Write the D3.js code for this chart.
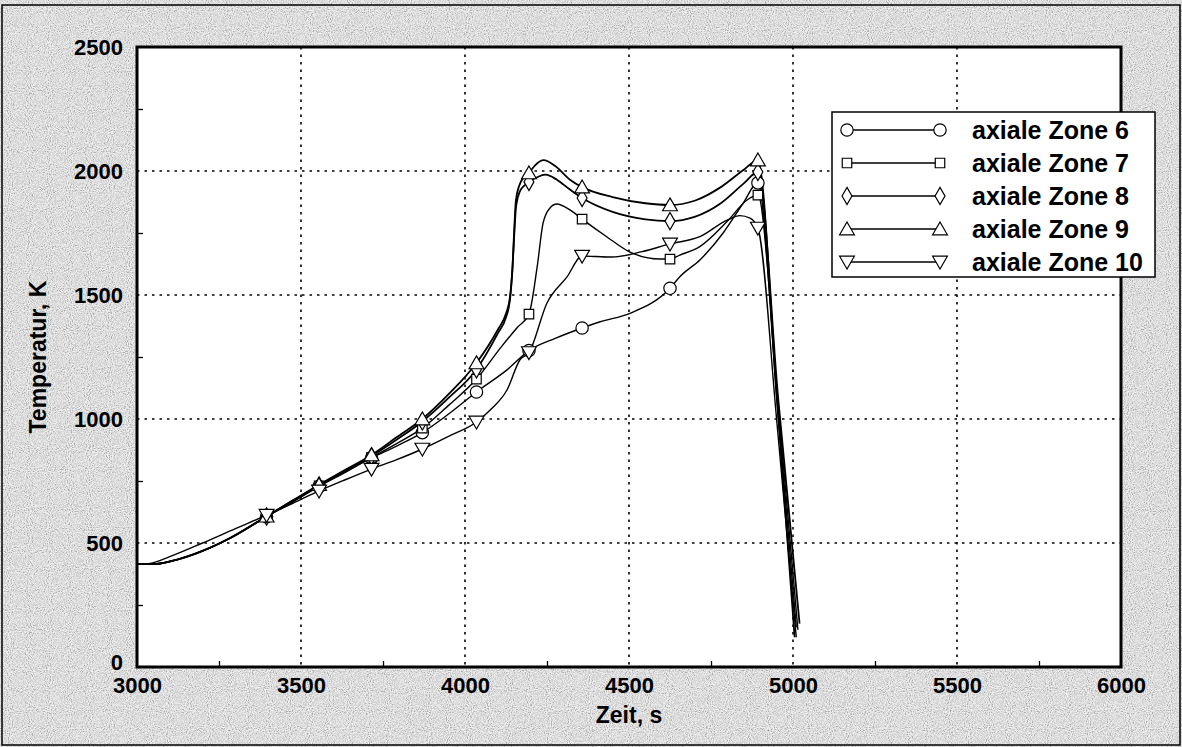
<!DOCTYPE html>
<html><head><meta charset="utf-8">
<script src="https://cdn.jsdelivr.net/npm/d3@7"></script>
<style>html,body{margin:0;padding:0;background:#fff}svg{display:block}</style>
</head><body>
<svg id="c" width="1182" height="747"></svg>
<script>
// ---- data ----
const xTicks = [3000, 3500, 4000, 4500, 5000, 5500, 6000];
const yTicks = [0, 500, 1000, 1500, 2000, 2500];
const seriesNames = ["axiale Zone 6", "axiale Zone 7", "axiale Zone 8", "axiale Zone 9", "axiale Zone 10"];
const seriesSymbols = ["circle", "square", "diamond", "triangle", "triangleDown"];
const markerTimes = [3395, 3555, 3715, 3870, 4035, 4195, 4357, 4625, 4893];

const zone6 = [[3000,415],[3060,416],[3120,432],[3200,468],[3284,520],[3395,606],[3475,665],[3555,728],[3635,785],[3715,843],[3790,890],[3870,945],[3950,1020],[4035,1109],[4128,1198],[4195,1276],[4275,1325],[4357,1367],[4412,1392],[4503,1426],[4625,1527],[4655,1574],[4716,1641],[4787,1750],[4848,1870],[4893,1952],[4952,1060],[5010,160]];
const zone7 = [[3000,415],[3060,416],[3120,432],[3200,468],[3284,520],[3395,607],[3475,668],[3555,730],[3635,788],[3715,845],[3790,900],[3870,963],[3950,1055],[4035,1161],[4110,1290],[4160,1370],[4195,1423],[4220,1613],[4238,1790],[4259,1851],[4280,1867],[4320,1843],[4357,1806],[4433,1734],[4503,1673],[4595,1645],[4625,1645],[4655,1661],[4716,1695],[4799,1796],[4860,1883],[4893,1903],[4955,1050],[5015,150]];
const zone8 = [[3000,415],[3060,416],[3120,432],[3200,468],[3284,520],[3395,607],[3475,670],[3555,732],[3635,792],[3715,850],[3790,915],[3870,990],[3950,1085],[4035,1200],[4100,1345],[4125,1410],[4137,1480],[4145,1610],[4150,1740],[4156,1860],[4168,1920],[4180,1940],[4195,1956],[4220,1975],[4245,1985],[4280,1965],[4320,1925],[4357,1891],[4450,1835],[4550,1805],[4625,1798],[4700,1815],[4780,1870],[4850,1950],[4893,1996],[4955,1080],[5020,175]];
const zone9 = [[3000,415],[3060,416],[3120,432],[3200,468],[3284,520],[3395,608],[3475,672],[3555,735],[3635,795],[3715,855],[3790,925],[3870,1000],[3950,1100],[4035,1226],[4100,1360],[4125,1425],[4137,1490],[4145,1620],[4150,1760],[4155,1880],[4165,1940],[4180,1975],[4195,1992],[4215,2025],[4240,2044],[4275,2020],[4320,1965],[4357,1935],[4450,1895],[4550,1870],[4625,1863],[4700,1880],[4780,1935],[4850,2005],[4893,2044],[4950,1100],[5005,120]];
const zone10 = [[3000,415],[3040,418],[3100,445],[3200,500],[3300,558],[3395,612],[3475,660],[3555,710],[3635,755],[3715,798],[3790,835],[3870,879],[3950,930],[4035,988],[4080,1040],[4128,1117],[4168,1240],[4195,1268],[4250,1468],[4311,1573],[4357,1657],[4400,1655],[4448,1653],[4540,1675],[4625,1706],[4716,1735],[4799,1802],[4838,1820],[4869,1810],[4893,1770],[4950,1000],[5010,120]];
const allSeries = [zone6, zone7, zone8, zone9, zone10];

// ---- layout ----
const svg = d3.select("#c");
const W = 1182, H = 747;
const L = 137, R = 1121, T = 47, B = 667;
const x = d3.scaleLinear().domain([3000, 6000]).range([L, R]);
const y = d3.scaleLinear().domain([0, 2500]).range([B, T]);

// background stipple
const defs = svg.append("defs");
const f = defs.append("filter").attr("id","stip").attr("x",0).attr("y",0).attr("width","100%").attr("height","100%");
f.append("feTurbulence").attr("type","fractalNoise").attr("baseFrequency","0.95").attr("numOctaves",1).attr("seed",3).attr("result","n");
f.append("feColorMatrix").attr("in","n").attr("type","matrix")
 .attr("values","1 0 0 0 0  1 0 0 0 0  1 0 0 0 0  0 0 0 0 1").attr("result","g");
const ct = f.append("feComponentTransfer").attr("in","g");
["feFuncR","feFuncG","feFuncB"].forEach(fn => ct.append(fn).attr("type","discrete").attr("tableValues","0.25 0.45 0.68 0.85 0.97 1"));

svg.append("rect").attr("x",0).attr("y",0).attr("width",W).attr("height",H).attr("fill","#bcbcbc");
svg.append("rect").attr("x",0).attr("y",0).attr("width",W).attr("height",H).attr("filter","url(#stip)").attr("opacity",0.85);
svg.append("rect").attr("x",2).attr("y",5).attr("width",W-4).attr("height",H-7)
  .attr("fill","none").attr("stroke","#000").attr("stroke-width",1.5);

// plot area
svg.append("rect").attr("x",L).attr("y",T).attr("width",R-L).attr("height",B-T).attr("fill","#fff");

const font = "'Liberation Sans', Arial, Helvetica, sans-serif";

// grid
const g = svg.append("g");
g.selectAll("line.vg").data(xTicks.slice(1,-1)).join("line")
  .attr("x1",d=>x(d)).attr("x2",d=>x(d)).attr("y1",T).attr("y2",B)
  .attr("stroke","#000").attr("stroke-width",1.6).attr("stroke-dasharray","2.5,5");
g.selectAll("line.hg").data(yTicks.slice(1,-1)).join("line")
  .attr("y1",d=>y(d)).attr("y2",d=>y(d)).attr("x1",L).attr("x2",R)
  .attr("stroke","#000").attr("stroke-width",1.6).attr("stroke-dasharray","2.5,5");

// minor ticks via axes
const xMinor = d3.range(3250, 6000, 500);
const yMinor = d3.range(250, 2500, 500);
svg.append("g").attr("transform",`translate(0,${B})`)
  .call(d3.axisBottom(x).tickValues(xMinor).tickSize(-6).tickFormat(""))
  .call(a=>a.select(".domain").remove())
  .call(a=>a.selectAll("line").attr("stroke-width",1.3));
svg.append("g").attr("transform",`translate(${L},0)`)
  .call(d3.axisLeft(y).tickValues(yMinor).tickSize(-6).tickFormat(""))
  .call(a=>a.select(".domain").remove())
  .call(a=>a.selectAll("line").attr("stroke-width",1.3));

// tick labels
const xa = svg.append("g").attr("transform",`translate(0,${B})`)
  .call(d3.axisBottom(x).tickValues(xTicks).tickSize(0).tickPadding(26).tickFormat(d3.format("d")));
xa.select(".domain").remove();
xa.selectAll("text").attr("font-family",font).attr("font-weight","bold").attr("font-size",22).attr("fill","#000").attr("dy",0);
const ya = svg.append("g").attr("transform",`translate(${L},0)`)
  .call(d3.axisLeft(y).tickValues(yTicks).tickSize(0).tickPadding(14).tickFormat(d3.format("d")));
ya.select(".domain").remove();
ya.selectAll("text").attr("font-family",font).attr("font-weight","bold").attr("font-size",22).attr("fill","#000")
  .attr("dy", d => d === 0 ? "0.1em" : "0.36em");

// axis titles
svg.append("text").attr("x",(L+R)/2).attr("y",723).attr("text-anchor","middle")
  .attr("font-family",font).attr("font-weight","bold").attr("font-size",23).text("Zeit, s");
svg.append("text").attr("transform",`translate(46,${(T+B)/2}) rotate(-90)`).attr("text-anchor","middle")
  .attr("font-family",font).attr("font-weight","bold").attr("font-size",23).text("Temperatur, K");

// lines
const line = d3.line().x(d=>x(d[0])).y(d=>y(d[1])).curve(d3.curveMonotoneX);
const plot = svg.append("g");
allSeries.forEach((s,i)=>{
  plot.append("path").attr("d",line(s)).attr("fill","none").attr("stroke","#000")
    .attr("stroke-width", i===2||i===3 ? 1.8 : 1.4).attr("stroke-linejoin","round");
});

const symMap = {circle:d3.symbolCircle, square:d3.symbolSquare, diamond:d3.symbolDiamond, triangle:d3.symbolTriangle, triangleDown:d3.symbolTriangle};
const symSize = {circle:120, square:90, diamond:85, triangle:95, triangleDown:95};
function drawSym(sel, type, cx, cy){
  const p = d3.symbol().type(symMap[type]).size(symSize[type]);
  const rot = type==="triangleDown" ? 180 : 0;
  const dy = type==="triangle" ? 1.5 : (type==="triangleDown" ? -1.5 : 0);
  sel.append("path").attr("d",p()).attr("transform",`translate(${cx},${cy+dy}) rotate(${rot})`)
    .attr("fill","#fff").attr("stroke","#000").attr("stroke-width",1.2);
}
allSeries.forEach((s,i)=>{
  s.filter(d=>markerTimes.includes(d[0])).forEach(d=>drawSym(plot, seriesSymbols[i], x(d[0]), y(d[1])));
});

// frame
svg.append("rect").attr("x",L).attr("y",T).attr("width",R-L).attr("height",B-T)
  .attr("fill","none").attr("stroke","#000").attr("stroke-width",3);

// legend (extends past the plot frame, as in the original)
const lg = svg.append("g");
const lgX = 832, lgTop = 112, lgRight = 1155, rowH = 33, row0 = 130;
lg.append("rect").attr("x",lgX).attr("y",lgTop).attr("width",lgRight-lgX).attr("height",277-lgTop)
  .attr("fill","#fff").attr("stroke","#000").attr("stroke-width",1.5);
seriesNames.forEach((n,i)=>{
  const cy = row0 + i*rowH;
  lg.append("line").attr("x1",847).attr("x2",940).attr("y1",cy).attr("y2",cy).attr("stroke","#000").attr("stroke-width",1.4);
  drawSym(lg, seriesSymbols[i], 847, cy);
  drawSym(lg, seriesSymbols[i], 940, cy);
  lg.append("text").attr("x",972).attr("y",cy).attr("dy","0.36em")
    .attr("font-family",font).attr("font-weight","bold").attr("font-size",25).text(n);
});
</script>
</body></html>
